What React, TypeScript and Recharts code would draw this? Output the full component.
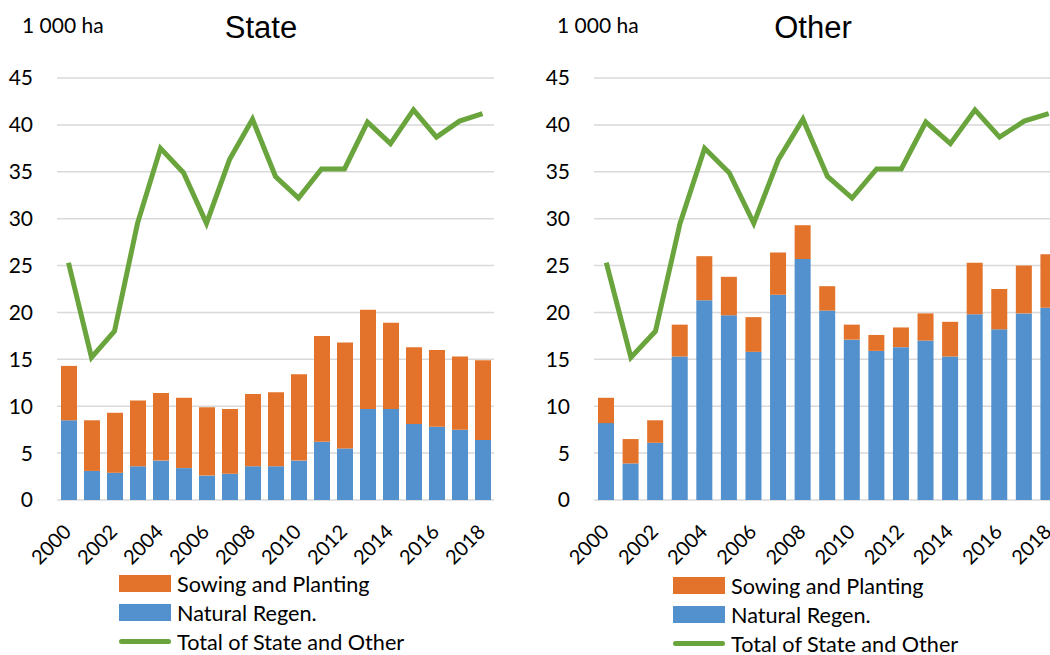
import React from "react";
import {
  ComposedChart,
  Bar,
  Line,
  XAxis,
  YAxis,
  CartesianGrid,
  Legend,
} from "recharts";

// 年次（2000〜2018）
const years = [
  "2000", "2001", "2002", "2003", "2004", "2005", "2006", "2007", "2008", "2009",
  "2010", "2011", "2012", "2013", "2014", "2015", "2016", "2017", "2018",
];

// State
const stateNatural = [8.5, 3.1, 2.9, 3.6, 4.2, 3.4, 2.6, 2.8, 3.6, 3.6, 4.2, 6.2, 5.5, 9.7, 9.7, 8.1, 7.8, 7.5, 6.4];
const stateSowing = [5.8, 5.4, 6.4, 7.0, 7.2, 7.5, 7.3, 6.9, 7.7, 7.9, 9.2, 11.3, 11.3, 10.6, 9.2, 8.2, 8.2, 7.8, 8.5];

// Other
const otherNatural = [8.2, 3.9, 6.1, 15.3, 21.3, 19.7, 15.8, 21.9, 25.7, 20.2, 17.1, 15.9, 16.3, 17.0, 15.3, 19.8, 18.2, 19.9, 20.5];
const otherSowing = [2.7, 2.6, 2.4, 3.4, 4.7, 4.1, 3.7, 4.5, 3.6, 2.6, 1.6, 1.7, 2.1, 2.9, 3.7, 5.5, 4.3, 5.1, 5.7];

// Total of State and Other
const totals = [25.3, 15.2, 18.0, 29.5, 37.5, 34.9, 29.5, 36.3, 40.6, 34.5, 32.2, 35.3, 35.3, 40.3, 38.0, 41.6, 38.7, 40.4, 41.2];

const yTicks = [0, 5, 10, 15, 20, 25, 30, 35, 40, 45];

const BLUE = "#5291cd";
const ORANGE = "#e3732a";
const GREEN = "#69a43d";
const GRID = "#d9d9d9";
const FONT = "Lato, 'Open Sans', sans-serif";

const legendOrder = ["sowing", "natural", "total"];

const renderLegend = (props: any) => {
  const items = [...(props.payload || [])].sort(
    (a: any, b: any) => legendOrder.indexOf(a.dataKey) - legendOrder.indexOf(b.dataKey)
  );
  return (
    <div style={{ fontFamily: FONT, fontSize: 21, color: "#000", lineHeight: "20px" }}>
      {items.map((it: any) => (
        <div
          key={it.dataKey}
          style={{ display: "flex", alignItems: "center", height: 29 }}
        >
          {it.type === "line" ? (
            <div
              style={{
                width: 52,
                height: 5,
                borderRadius: 3,
                background: it.color,
                marginRight: 6,
              }}
            />
          ) : (
            <div
              style={{
                width: 52,
                height: 17,
                background: it.color,
                marginRight: 6,
              }}
            />
          )}
          <span style={{ display: "inline-block", transform: "scaleX(1.03)", transformOrigin: "left" }}>
            {it.value}
          </span>
        </div>
      ))}
    </div>
  );
};

// 斜めの年ラベル
const YearTick = (props: any) => {
  const { x, y, payload } = props;
  const tx = x - 6;
  return (
    <text
      x={tx}
      y={y}
      dy="0.71em"
      textAnchor="end"
      transform={`rotate(-45, ${tx}, ${y})`}
      fill="#000"
      fontSize={20}
      fontFamily={FONT}
    >
      {payload.value}
    </text>
  );
};

interface PanelProps {
  title: string;
  natural: number[];
  sowing: number[];
  left: number;
  width: number;
  plotRight: number;
  yAxisWidth: number;
  titleX: number;
  unitX: number;
  legendLeft: number;
  legendTop: number;
}

const Panel = ({
  title,
  natural,
  sowing,
  left,
  width,
  plotRight,
  yAxisWidth,
  titleX,
  unitX,
  legendLeft,
  legendTop,
}: PanelProps) => {
  const data = years.map((year, i) => ({
    year,
    natural: natural[i],
    sowing: sowing[i],
    total: totals[i],
  }));
  return (
    <div style={{ position: "absolute", left, top: 0, width, height: 655 }}>
      <div
        style={{
          position: "absolute",
          left: unitX,
          top: 12,
          fontFamily: FONT,
          fontSize: 21,
          whiteSpace: "nowrap",
          color: "#000",
        }}
      >
        1 000 ha
      </div>
      <div
        style={{
          position: "absolute",
          left: titleX - 100,
          width: 200,
          top: 10,
          textAlign: "center",
          fontFamily: "'Liberation Sans', Arial, sans-serif",
          fontSize: 31,
          color: "#000",
        }}
      >
        {title}
      </div>
      <ComposedChart
        width={width}
        height={655}
        data={data}
        margin={{ top: 78, right: left + width - plotRight, bottom: 95, left: 0 }}
        style={{ position: "absolute", left: 0, top: 0 }}
      >
        <CartesianGrid vertical={false} stroke={GRID} strokeWidth={1.5} />
        <XAxis
          dataKey="year"
          interval={1}
          axisLine={false}
          tickLine={false}
          tickSize={0}
          tickMargin={23}
          height={60}
          tick={<YearTick />}
        />
        <YAxis
          width={yAxisWidth}
          domain={[0, 45]}
          ticks={yTicks}
          axisLine={false}
          tickLine={false}
          tickSize={0}
          tickMargin={24}
          tick={{ fill: "#000", fontSize: 21, fontFamily: FONT }}
        />
        <Legend
          layout="vertical"
          align="center"
          verticalAlign="middle"
          content={renderLegend}
          wrapperStyle={{ left: legendLeft, top: legendTop, width: "auto" }}
        />
        <Bar
          dataKey="natural"
          name="Natural Regen."
          stackId="a"
          fill={BLUE}
          barSize={16}
          legendType="rect"
          isAnimationActive={false}
        />
        <Bar
          dataKey="sowing"
          name="Sowing and Planting"
          stackId="a"
          fill={ORANGE}
          barSize={16}
          legendType="rect"
          isAnimationActive={false}
        />
        <Line
          dataKey="total"
          name="Total of State and Other"
          type="linear"
          stroke={GREEN}
          strokeWidth={5}
          dot={false}
          legendType="line"
          isAnimationActive={false}
        />
      </ComposedChart>
    </div>
  );
};

export default function App() {
  return (
    <div
      style={{
        position: "absolute",
        left: 0,
        top: 0,
        width: 1050,
        height: 655,
        overflow: "hidden",
        background: "#fff",
      }}
    >
      <Panel
        title="State"
        natural={stateNatural}
        sowing={stateSowing}
        left={0}
        width={510}
        plotRight={494}
        yAxisWidth={57}
        titleX={261}
        unitX={22}
        legendLeft={119}
        legendTop={569}
      />
      <Panel
        title="Other"
        natural={otherNatural}
        sowing={otherSowing}
        left={530}
        width={540}
        plotRight={1061}
        yAxisWidth={64}
        titleX={283}
        unitX={27}
        legendLeft={143}
        legendTop={571}
      />
    </div>
  );
}
